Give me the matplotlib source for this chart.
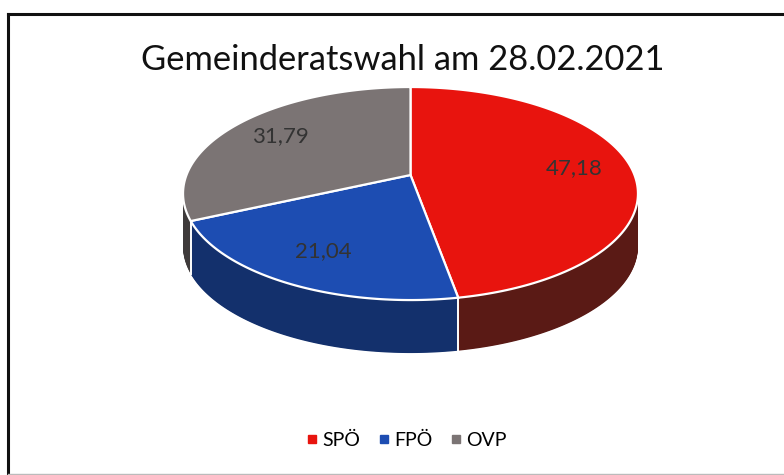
import matplotlib
matplotlib.use("Agg")
import matplotlib.pyplot as plt
from matplotlib.lines import Line2D
from matplotlib.transforms import Transform, Affine2D
from matplotlib.path import Path
import numpy as np

# ---- data ----
title = "Gemeinderatswahl am 28.02.2021"
parties = ["SPÖ", "FPÖ", "OVP"]
values = [47.18, 21.04, 31.79]
top_colors = ["#E8140E", "#1D4DB2", "#7B7474"]
side_colors = ["#5A1A15", "#13306C", "#3E3A3A"]

W, H = 784, 475
fig = plt.figure(figsize=(W / 100, H / 100), dpi=100)
plt.rcParams['font.family'] = ['Lato', 'DejaVu Sans']


class Perspective(Transform):
    """Projects the unit pie disc onto a tilted, perspective ellipse (pixel space)."""
    input_dims = output_dims = 2
    is_separable = False
    has_inverse = False

    def __init__(self, cx, cy, R, S, k):
        super().__init__()
        self.cx, self.cy, self.R, self.S, self.k = cx, cy, R, S, k

    def transform_non_affine(self, values):
        p = np.atleast_2d(np.asarray(values, float))
        u, v = p[:, 0], p[:, 1]
        den = 1.0 + self.k * v
        return np.column_stack([self.cx + self.R * u / den,
                                self.cy - self.S * v / den])

    def transform_path_non_affine(self, path):
        pts, codes = [], []
        for seg, code in path.iter_bezier():
            if code == Path.MOVETO:
                pts.append(seg.control_points[0])
                codes.append(Path.MOVETO)
                continue
            n = 2 if seg.degree == 1 else 40
            for q in seg(np.linspace(0, 1, n)[1:]):
                pts.append(q)
                codes.append(Path.LINETO)
        if not pts:
            return path
        return Path(self.transform_non_affine(np.array(pts)), codes)


# perspective pie geometry (pixels)
cx, cy = 410.5, 175.0
R, S, k = 224.0, 103.3, 0.174
depth = 53.0
persp = Perspective(cx, cy, R, S, k)

ax = fig.add_axes([0, 0, 1, 1])

# side wall: stacked, shifted pie layers
nlayers = 80
for i in range(nlayers, 0, -1):
    off = depth * i / nlayers
    tr = persp + Affine2D().translate(0, off) + ax.transData
    ax.pie(values, colors=side_colors, startangle=90, counterclock=False,
           center=(0, 0), radius=1.0,
           wedgeprops=dict(linewidth=0, transform=tr))

# top face
wedges, texts, autotexts = ax.pie(
    values, colors=top_colors, startangle=90, counterclock=False,
    center=(0, 0), radius=1.0,
    autopct=lambda p: "", pctdistance=0.74,
    textprops=dict(transform=persp + ax.transData),
    wedgeprops=dict(linewidth=1.6, edgecolor="white",
                    transform=persp + ax.transData))

# white seam on the visible side wall at front slice boundaries
for w in wedges:
    a = np.deg2rad(w.theta1)
    if np.sin(a) < 0:
        top = persp.transform([[np.cos(a), np.sin(a)]])[0]
        ax.plot([top[0], top[0]], [top[1], top[1] + depth],
                color="white", lw=1.4)

# value labels
for t, v in zip(autotexts, values):
    t.set_text(f"{v:.2f}".replace(".", ","))
    t.set_fontsize(16)
    t.set_color("#333333")

ax.set_aspect("auto")
ax.set_xlim(0, W)
ax.set_ylim(H, 0)
ax.axis("off")

# frame
ax.plot([8, 8], [14, 474], color="#111111", lw=2.2)
ax.plot([8, W], [14, 14], color="#111111", lw=2.2)
ax.plot([8, W], [473.5, 473.5], color="#bbbbbb", lw=1.0)

fig.text(402.5 / W, 1 - 60 / H, title, ha="center", va="center",
         fontsize=24.8, color="#111111")

handles = [Line2D([0], [0], marker="s", linestyle="none", markersize=5.5,
                  markerfacecolor=c, markeredgecolor=c) for c in top_colors]
fig.legend(handles, parties, loc="center", bbox_to_anchor=(406 / W, 1 - 440 / H),
           ncol=3, frameon=False, fontsize=14, handletextpad=0.15,
           columnspacing=0.9, handlelength=0.7)

fig.savefig("out.png", dpi=100)
